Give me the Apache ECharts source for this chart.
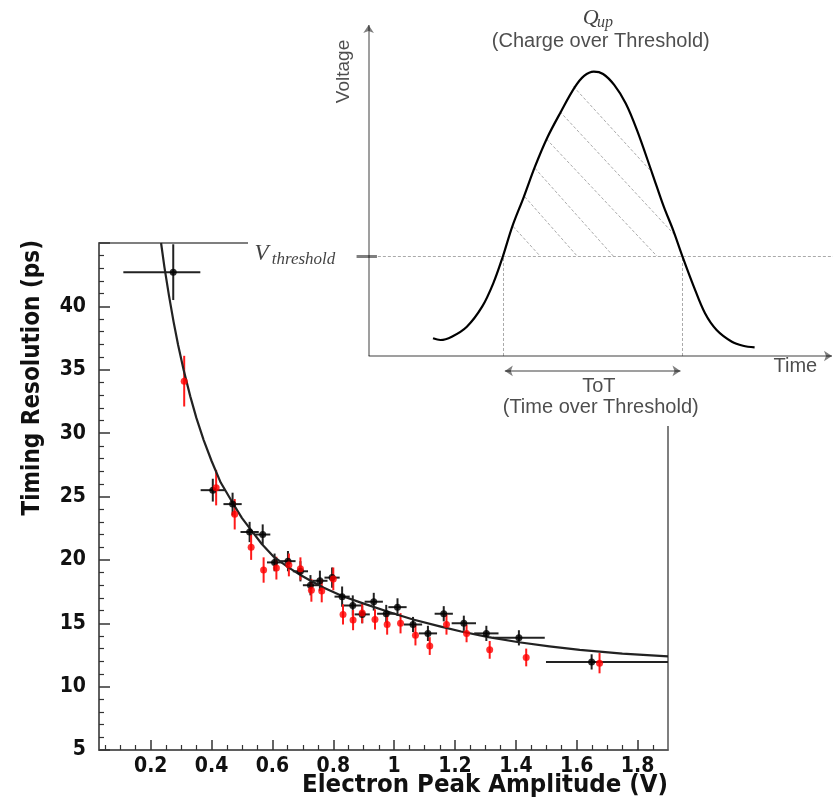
<!DOCTYPE html>
<html><head><meta charset="utf-8">
<script src="https://cdn.jsdelivr.net/npm/echarts@6/dist/echarts.min.js"></script>
<style>html,body{margin:0;padding:0;background:#fff}#c{width:833px;height:800px}</style>
</head><body><div id="c"></div>
<script>
// ---------- main plot data ----------
const blackX      = [0.274,0.404,0.469,0.525,0.568,0.607,0.651,0.692,0.725,0.756,0.796,0.829,0.864,0.895,0.933,0.974,1.011,1.062,1.111,1.163,1.229,1.303,1.410,1.649];
const blackY      = [42.7,25.5,24.4,22.2,22.0,19.8,19.9,19.1,18.0,18.35,18.6,17.1,16.4,15.7,16.7,15.75,16.27,14.9,14.2,15.75,15.0,14.2,13.85,11.95];
const blackXErrLo = [0.164,0.04,0.03,0.03,0.025,0.025,0.025,0.025,0.025,0.025,0.025,0.025,0.03,0.025,0.03,0.03,0.03,0.03,0.03,0.03,0.04,0.04,0.085,0.15];
const blackXErrHi = [0.089,0.04,0.03,0.03,0.025,0.025,0.025,0.025,0.025,0.025,0.025,0.025,0.03,0.025,0.03,0.03,0.03,0.03,0.03,0.03,0.04,0.04,0.085,0.30];
const blackYErr   = [2.2,0.9,0.9,0.8,0.8,0.7,0.8,0.8,0.8,0.8,0.8,0.8,0.8,0.7,0.7,0.7,0.7,0.6,0.6,0.6,0.6,0.6,0.6,0.6];

const redX    = [0.310,0.415,0.476,0.530,0.571,0.613,0.654,0.692,0.728,0.762,0.800,0.832,0.865,0.895,0.937,0.977,1.021,1.070,1.117,1.172,1.238,1.314,1.434,1.675];
const redY    = [34.1,25.7,23.6,21.0,19.2,19.35,19.6,19.3,17.6,17.55,18.5,15.7,15.25,15.8,15.3,14.9,15.0,14.05,13.2,14.9,14.2,12.9,12.3,11.85];
const redYErr = [2.0,1.4,1.2,1.0,1.0,0.9,0.9,0.9,0.9,0.9,0.9,0.8,0.8,0.8,0.8,0.8,0.8,0.8,0.7,0.8,0.7,0.7,0.7,0.8];

// fit curve
const fitX = [0.234,0.245,0.26,0.275,0.29,0.308,0.33,0.35,0.374,0.40,0.43,0.473,0.50,0.53,0.565,0.604,0.65,0.692,0.73,0.769,0.829,0.90,0.988,1.062,1.15,1.22,1.31,1.41,1.51,1.61,1.75,1.9];
const fitY = [45.0,43.1,40.85,38.8,36.95,35.0,32.9,31.2,29.45,27.8,26.1,24.35,23.3,22.35,21.25,20.25,19.45,18.8,18.3,17.8,17.15,16.55,15.85,15.3,14.75,14.35,13.9,13.5,13.18,12.9,12.6,12.38];

const xMajorTicks = [0.2,0.4,0.6,0.8,1,1.2,1.4,1.6,1.8];
const xMinorTicks = [0.05,0.1,0.15,0.25,0.3,0.35,0.45,0.5,0.55,0.65,0.7,0.75,0.85,0.9,0.95,1.05,1.1,1.15,1.25,1.3,1.35,1.45,1.5,1.55,1.65,1.7,1.75,1.85];
const xTitle = 'Electron Peak Amplitude (V)';
const yTitle = 'Timing Resolution (ps)';

// ---------- inset (pulse schematic) data, arbitrary units ----------
const pulseT = [13.9,15.5,17.95,21.2,24.5,26.9,29.0,31.0,33.5,35.9,38.5,41.5,44.5,46.5,48.6,50.6,53.0,55.5,57.9,61.2,63.7,65.7,67.7,70.2,72.6,75.1,78.4,80.8,83.3];
const pulseV = [5.35,4.83,5.83,8.85,14.9,21.96,30.2,39.1,48.1,57.2,65.8,73.8,81.2,84.6,85.9,85.2,81.9,76.3,68.3,55.2,45.1,38.1,30.2,20.9,12.9,7.85,4.3,3.1,2.6];
const hatchT1 = [44.2,41.3,38.4,35.9,33.7,31.2];
const hatchV1 = [81.4,73.8,65.5,56.7,48.1,39.1];
const hatchT2 = [60.7,66.1,62.2,52.8,45.0,37.0];
const hatchV2 = [56.2,36.5,30.2,30.2,30.2,30.2];
const vThreshold = 30.2;
const totStart = 29.0, totEnd = 67.7;
const axisEnd = 100;
const annoText = ['Voltage','Q','up','(Charge over Threshold)','V','threshold','ToT','(Time over Threshold)','Time'];
const annoT    = [-5.3, 46.3, 49.4, 50.2, -24.5, -20.8, 49.8, 50.2, 92.2];
const annoV    = [85.8, 102.0, 100.4, 95.0, 30.6, 28.9, -9.3, -15.8, -3.3];

const FONT = '"DejaVu Sans Condensed","Liberation Sans Narrow","Liberation Sans",sans-serif';

function errRenderer(color, withX) {
  return function (params, api) {
    const x = api.value(0), y = api.value(1), lo = api.value(2), hi = api.value(3), ey = api.value(4);
    const ch = [];
    if (withX) {
      const a = api.coord([x - lo, y]), b = api.coord([x + hi, y]);
      ch.push({type:'line', shape:{x1:a[0],y1:a[1],x2:b[0],y2:b[1]}, style:{stroke:color,lineWidth:2}});
    }
    const c = api.coord([x, y - ey]), d = api.coord([x, y + ey]);
    ch.push({type:'line', shape:{x1:c[0],y1:c[1],x2:d[0],y2:d[1]}, style:{stroke:color,lineWidth:2}});
    return {type:'group', children: ch};
  };
}

const blackErrData = blackX.map((x,i)=>[x, blackY[i], blackXErrLo[i], blackXErrHi[i], blackYErr[i]]);
const redErrData = redX.map((x,i)=>[x, redY[i], 0, 0, redYErr[i]]);

const insetStyle = {fontFamily:'"Liberation Sans",Arial,sans-serif', fontSize:20, color:'#222'};
const serifStyle = {fontFamily:'"Liberation Serif","DejaVu Serif",serif', fontStyle:'italic', color:'#111'};
const annoStyles = [
  Object.assign({}, insetStyle, {fontSize:19, rotate:90, align:'center'}),
  Object.assign({}, serifStyle, {fontSize:22, align:'left'}),
  Object.assign({}, serifStyle, {fontSize:16, align:'left'}),
  Object.assign({}, insetStyle, {align:'center'}),
  Object.assign({}, serifStyle, {fontSize:23, align:'left'}),
  Object.assign({}, serifStyle, {fontSize:17, align:'left'}),
  Object.assign({}, insetStyle, {align:'center'}),
  Object.assign({}, insetStyle, {align:'center'}),
  Object.assign({}, insetStyle, {align:'center'})
];
const annoData = annoText.map((t,i)=>({
  value:[annoT[i], annoV[i]],
  label: Object.assign({show:true, formatter:t, position:[0,0], verticalAlign:'middle'}, annoStyles[i])
}));

const dashed = {color:'#555', width:1, type:[3,2]};
const insetLines = (coordsList, style, symbol, z) => ({
  type:'lines', coordinateSystem:'cartesian2d', xAxisIndex:2, yAxisIndex:1, z: z||20, silent:true,
  polyline:false, symbol: symbol || ['none','none'], symbolSize: 8,
  lineStyle: style,
  data: coordsList.map(c=>({coords:c}))
});

const chart = echarts.init(document.getElementById('c'), null, {renderer:'canvas'});
chart.setOption({
  animation:false,
  backgroundColor:'#fff',
  grid:[
    {left:99, right:165, top:243, bottom:50, show:true, borderColor:'#555', borderWidth:1.5, backgroundColor:'transparent'},
    {left:248, right:0, top:0, height:426, show:true, backgroundColor:'#fff', borderWidth:0, z:10}
  ],
  xAxis:[
    {gridIndex:0, type:'value', min:0.03, max:1.9, position:'bottom',
     axisLine:{show:true, onZero:false, lineStyle:{color:'#555', width:1.5}},
     axisTick:{show:true, inside:true, length:10, customValues:xMajorTicks, lineStyle:{color:'#333', width:1.5}},
     axisLabel:{customValues:xMajorTicks, margin:6, fontFamily:FONT, fontWeight:'bold', fontSize:21, color:'#111'},
     splitLine:{show:false}},
    {gridIndex:0, type:'value', min:0.03, max:1.9, position:'bottom',
     axisLine:{show:false},
     axisTick:{show:true, inside:true, length:5, customValues:xMinorTicks, lineStyle:{color:'#333', width:1.2}},
     axisLabel:{show:false}, splitLine:{show:false}},
    {gridIndex:1, type:'value', min:-26.03, max:100.22, show:false}
  ],
  yAxis:[
    {gridIndex:0, type:'value', min:5, max:45, interval:5, position:'left',
     axisLine:{show:true, onZero:false, lineStyle:{color:'#555', width:1.5}},
     axisTick:{show:true, inside:true, length:11, lineStyle:{color:'#333', width:1.5}},
     minorTick:{show:true, splitNumber:5, length:5, lineStyle:{color:'#333', width:1.2}},
     axisLabel:{showMaxLabel:false, margin:13, fontFamily:FONT, fontWeight:'bold', fontSize:21, color:'#111'},
     splitLine:{show:false}, minorSplitLine:{show:false}},
    {gridIndex:1, type:'value', min:-21.15, max:107.55, show:false}
  ],
  graphic:[
    {type:'text', x:668, y:785, z:100, style:{text:xTitle, align:'right', verticalAlign:'middle', font:'bold 25.5px '+FONT, fill:'#111'}},
    {type:'text', x:33, y:240, rotation:Math.PI/2, z:100, style:{text:yTitle, align:'right', verticalAlign:'middle', font:'bold 24px '+FONT, fill:'#111'}}
  ],
  series:[
    {type:'custom', name:'blackErr', xAxisIndex:0, yAxisIndex:0, clip:true, z:3, renderItem:errRenderer('#222', true), data:blackErrData, silent:true},
    {type:'custom', name:'redErr', xAxisIndex:0, yAxisIndex:0, clip:true, z:3, renderItem:errRenderer('#ff1a1a', false), data:redErrData, silent:true},
    {type:'line', name:'fit', xAxisIndex:0, yAxisIndex:0, data:fitX.map((x,i)=>[x,fitY[i]]), smooth:false, symbol:'none', clip:true, z:4,
     lineStyle:{color:'#222', width:2.2, join:'round'}},
    {type:'scatter', name:'black', xAxisIndex:0, yAxisIndex:0, data:blackX.map((x,i)=>[x,blackY[i]]), symbolSize:7, itemStyle:{color:'#000'}, z:5},
    {type:'scatter', name:'red', xAxisIndex:0, yAxisIndex:0, data:redX.map((x,i)=>[x,redY[i]]), symbolSize:7, itemStyle:{color:'#ff0000'}, z:6},
    // inset
    {type:'line', name:'pulse', xAxisIndex:2, yAxisIndex:1, data:pulseT.map((t,i)=>[t,pulseV[i]]), smooth:0.35, symbol:'none', z:22,
     lineStyle:{color:'#000', width:2.2}},
    insetLines(hatchT1.map((t,i)=>[[t,hatchV1[i]],[hatchT2[i],hatchV2[i]]]), dashed),
    insetLines([[[2,vThreshold],[100.22,vThreshold]], [[totStart,0],[totStart,vThreshold]], [[totEnd,0],[totEnd,vThreshold]]], dashed),
    insetLines([[[0,0],[axisEnd,0]]], {color:'#000', width:1.5}, ['none','arrow']),
    insetLines([[[0,0],[0,axisEnd]]], {color:'#000', width:1.5}, ['none','arrow']),
    insetLines([[[-2.6,vThreshold],[1.8,vThreshold]]], {color:'#000', width:3}),
    insetLines([[[totStart+0.4,-4.5],[totEnd-0.4,-4.5]]], {color:'#000', width:1.5}, ['arrow','arrow']),
    {type:'scatter', name:'anno', xAxisIndex:2, yAxisIndex:1, symbolSize:1, itemStyle:{color:'transparent'}, z:30, silent:true, data:annoData}
  ]
});
</script></body></html>
